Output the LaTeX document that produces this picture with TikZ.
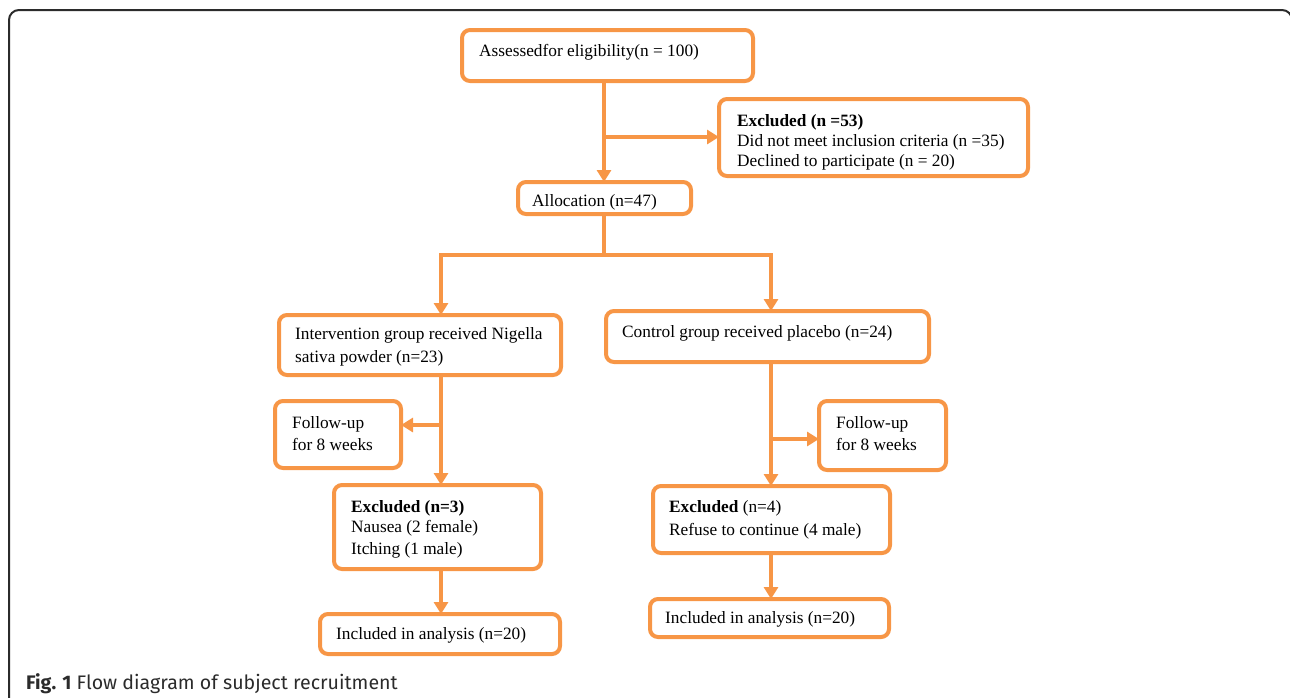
\documentclass[tikz,border=0pt]{standalone}
\usepackage{fontspec}
\setmainfont{Liberation Serif}
\newfontfamily\capfont{Fira Sans}
\usetikzlibrary{arrows.meta}
\definecolor{flow}{HTML}{F79646}
\definecolor{frame}{HTML}{2B2B2B}
\tikzset{
  bx/.style={draw=flow, line width=4pt, rounded corners=8pt, inner sep=0pt, outer sep=0pt},
  conn/.style={draw=flow, line width=3.5pt},
  arr/.style={conn, -{Triangle[width=14pt,length=12pt]}},
  tx/.style={anchor=base west, inner sep=0pt, font=\fontsize{17.3}{21}\selectfont, text=black},
}
\begin{document}
\begin{tikzpicture}[x=1pt,y=-1pt]
\useasboundingbox (0,0) rectangle (1290,697);
\clip (0,0) rectangle (1290,697);
% outer frame
\draw[frame, line width=2pt, rounded corners=10pt] (9,720) -- (9,10) -- (1292,10) -- (1292,720);
% boxes
\node[bx, minimum width=291pt, minimum height=51pt] (assess) at (607.5,55.5) {};
\node[bx, minimum width=309pt, minimum height=77pt] (exclA) at (873.5,137.5) {};
\node[bx, minimum width=173pt, minimum height=32pt] (alloc) at (604.5,198) {};
\node[bx, minimum width=282pt, minimum height=60pt] (interv) at (420,345) {};
\node[bx, minimum width=323pt, minimum height=51pt] (control) at (767.5,336.5) {};
\node[bx, minimum width=126pt, minimum height=67pt] (fuL) at (338,434.5) {};
\node[bx, minimum width=127pt, minimum height=69pt] (fuR) at (882.5,435.5) {};
\node[bx, minimum width=207pt, minimum height=84pt] (exclL) at (437.5,527) {};
\node[bx, minimum width=237pt, minimum height=67pt] (exclR) at (771.5,519.5) {};
\node[bx, minimum width=240pt, minimum height=40pt] (inclL) at (440,634) {};
\node[bx, minimum width=239pt, minimum height=38pt] (inclR) at (769.5,618) {};
% texts
\node[tx] (tA) at (479,56) {Assessedfor eligibility(n = 100)};
\node[tx] (tB1) at (737,126) {\textbf{Excluded (n =53)}};
\node[tx] (tB2) at (737,146) {Did not meet inclusion criteria (n =35)};
\node[tx] (tB3) at (737,166) {Declined to participate (n = 20)};
\node[tx] (tC) at (532,206) {Allocation (n=47)};
\node[tx] (tD1) at (295,339) {Intervention group received Nigella};
\node[tx] (tD2) at (295,362) {sativa powder (n=23)};
\node[tx] (tE) at (622,337) {Control group received placebo (n=24)};
\node[tx] (tF1) at (292,428) {Follow-up};
\node[tx] (tF2) at (292,450) {for 8 weeks};
\node[tx] (tG1) at (836,428) {Follow-up};
\node[tx] (tG2) at (836,450) {for 8 weeks};
\node[tx] (tH1) at (351,512) {\textbf{Excluded (n=3)}};
\node[tx] (tH2) at (351,532) {Nausea (2 female)};
\node[tx] (tH3) at (351,554) {Itching (1 male)};
\node[tx] (tI1) at (669,512) {\textbf{Excluded} (n=4)};
\node[tx] (tI2) at (669,535) {Refuse to continue (4 male)};
\node[tx] (tJ) at (336,639) {Included in analysis (n=20)};
\node[tx] (tK) at (665,623) {Included in analysis (n=20)};
% caption
\node[anchor=base west, inner sep=0pt, text=frame, font=\capfont\fontsize{19.6}{22}\selectfont] (cap) at (26,689) {\textbf{Fig. 1} Flow diagram of subject recruitment};
% connectors
\coordinate (m) at (604,137);
\coordinate (s) at (604,255);
\coordinate (sl) at (441,255);
\coordinate (sr) at (771,255);
\coordinate (fl) at (441,425);
\coordinate (fr) at (771,439);
\draw[arr] (assess.south -| m) -- (alloc.north -| m);
\draw[arr] (m) -- (exclA.west |- m);
\draw[conn] (alloc.south -| s) -- (s);
\draw[conn, line cap=rect] (sl) -- (sr);
\draw[arr] (sl) -- (interv.north -| sl);
\draw[arr] (sr) -- (control.north -| sr);
\draw[arr] (interv.south -| sl) -- (exclL.north -| sl);
\draw[arr] (fl) -- (fuL.east |- fl);
\draw[arr] (control.south -| sr) -- (exclR.north -| sr);
\draw[arr] (fr) -- (fuR.west |- fr);
\draw[arr] (exclL.south -| sl) -- (inclL.north -| sl);
\draw[arr] (exclR.south -| sr) -- (inclR.north -| sr);
\end{tikzpicture}
\end{document}
